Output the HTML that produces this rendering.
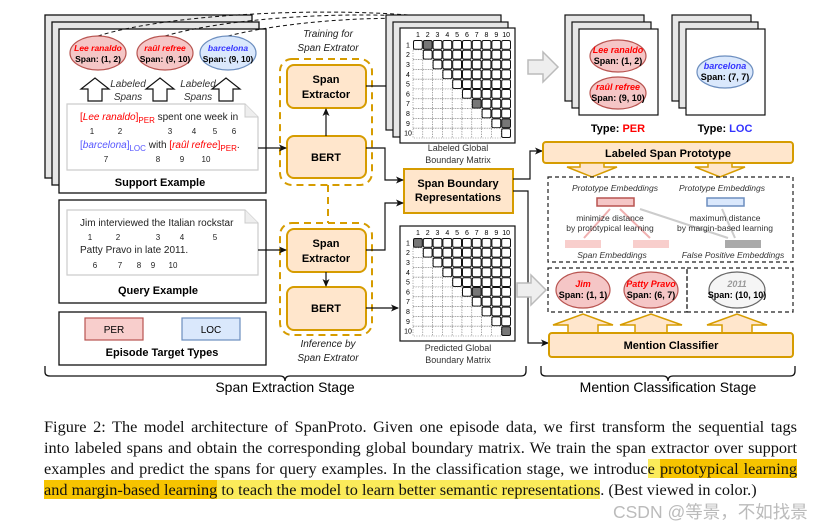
<!DOCTYPE html>
<html><head><meta charset="utf-8">
<style>
html,body{margin:0;padding:0;background:#fff;width:840px;height:530px;overflow:hidden;position:relative}
svg{position:absolute;left:0;top:0}
svg text{font-family:"Liberation Sans",sans-serif}
.cap{position:absolute;left:44px;width:753px;font-family:"Liberation Serif",serif;font-size:16.3px;line-height:21px;color:#111;white-space:nowrap;text-align:justify;text-align-last:justify}
.hl{background:#f7c400}
.hl2{background:#fbeb5a}
.wm{position:absolute;left:613px;top:499px;font-family:"Liberation Sans","Noto Sans CJK SC",sans-serif;font-size:17.5px;color:#bbb;white-space:nowrap}
</style></head><body>
<svg width="840" height="530" viewBox="0 0 840 530" xmlns="http://www.w3.org/2000/svg">
<defs>
<marker id="ar" markerWidth="8" markerHeight="8" refX="7" refY="4" orient="auto" markerUnits="userSpaceOnUse"><path d="M0,0.5 L8,4 L0,7.5 L2,4z" fill="#111"/></marker>
</defs>
<g stroke="#111" stroke-width="1.3" font-size="11">
<rect x="45" y="15" width="207" height="163" fill="#e6e6e6"/>
<rect x="52" y="22" width="207" height="163" fill="#e6e6e6"/>
<rect x="59" y="29" width="207" height="164" fill="#fff"/>
<rect x="59" y="200" width="207" height="103" fill="#fff"/>
<rect x="59" y="312" width="207" height="53" fill="#fff"/>
</g>
<g fill="none" stroke="#111" stroke-dasharray="4,3" stroke-width="1">
<path d="M98,36 C180,10 380,5 462,22" marker-end="url(#ar)"/>
<path d="M165,36 C240,14 400,8 480,24" marker-end="url(#ar)"/>
<path d="M228,36 C300,18 420,12 500,26" marker-end="url(#ar)"/>
</g>
<g stroke-width="1.2">
<ellipse cx="98" cy="53" rx="28" ry="17" fill="#f5c6c6" stroke="#b85450"/>
<ellipse cx="165" cy="53" rx="28" ry="17" fill="#f5c6c6" stroke="#b85450"/>
<ellipse cx="228" cy="53" rx="28" ry="17" fill="#dae8fc" stroke="#6c8ebf"/>
</g>
<g font-size="8.5" font-weight="bold" text-anchor="middle">
<text x="98" y="51" fill="#f00" font-style="italic">Lee ranaldo</text><text x="98" y="62">Span: (1, 2)</text>
<text x="165" y="51" fill="#f00" font-style="italic">raûl refree</text><text x="165" y="62">Span: (9, 10)</text>
<text x="228" y="51" fill="#33f" font-style="italic">barcelona</text><text x="228" y="62">Span: (9, 10)</text>
</g>
<g fill="#fff" stroke="#111" stroke-width="1.2">
<path d="M88,101 V89 H81 L95,78 L109,89 H102 V101z"/>
<path d="M153,101 V89 H146 L160,78 L174,89 H167 V101z"/>
<path d="M219,101 V89 H212 L226,78 L240,89 H233 V101z"/>
</g>
<g font-size="10" font-style="italic" fill="#333" text-anchor="middle">
<text x="128" y="87">Labeled</text><text x="128" y="100">Spans</text>
<text x="198" y="87">Labeled</text><text x="198" y="100">Spans</text>
</g>
<path d="M67,104 H245 L258,117 V170 H67z" fill="#fff" stroke="#ccc" stroke-width="1.2"/>
<path d="M245,104 V117 H258" fill="#eee" stroke="#ccc"/>
<g font-size="10" fill="#222">
<text x="80" y="120"><tspan fill="#f00">[</tspan><tspan fill="#f00" font-style="italic">Lee ranaldo</tspan><tspan fill="#f00">]</tspan><tspan fill="#f00" font-size="8" dy="3">PER</tspan><tspan dy="-3"> spent one week in</tspan></text>
<text x="80" y="148"><tspan fill="#55f">[</tspan><tspan fill="#55f" font-style="italic">barcelona</tspan><tspan fill="#55f">]</tspan><tspan fill="#55f" font-size="8" dy="3">LOC</tspan><tspan dy="-3"> with </tspan><tspan fill="#f00">[</tspan><tspan fill="#f00" font-style="italic">raûl refree</tspan><tspan fill="#f00">]</tspan><tspan fill="#f00" font-size="8" dy="3">PER</tspan><tspan dy="-3">.</tspan></text>
</g>
<g font-size="8" fill="#222" text-anchor="middle">
<text x="92" y="134">1</text><text x="120" y="134">2</text><text x="170" y="134">3</text><text x="194" y="134">4</text><text x="215" y="134">5</text><text x="234" y="134">6</text>
<text x="106" y="162">7</text><text x="158" y="162">8</text><text x="182" y="162">9</text><text x="206" y="162">10</text>
</g>
<text x="160" y="186" font-size="11" font-weight="bold" text-anchor="middle">Support Example</text>
<path d="M67,210 H245 L258,223 V275 H67z" fill="#fff" stroke="#ccc" stroke-width="1.2"/>
<path d="M245,210 V223 H258" fill="#eee" stroke="#ccc"/>
<g font-size="10" fill="#222"><text x="80" y="226">Jim interviewed the Italian rockstar</text><text x="80" y="253">Patty Pravo in late 2011.</text></g>
<g font-size="8" fill="#222" text-anchor="middle">
<text x="90" y="240">1</text><text x="118" y="240">2</text><text x="158" y="240">3</text><text x="182" y="240">4</text><text x="215" y="240">5</text>
<text x="95" y="268">6</text><text x="120" y="268">7</text><text x="139" y="268">8</text><text x="153" y="268">9</text><text x="173" y="268">10</text>
</g>
<text x="158" y="294" font-size="11" font-weight="bold" text-anchor="middle">Query Example</text>
<rect x="85" y="318" width="58" height="22" fill="#f8cecc" stroke="#b85450" stroke-width="1.2"/>
<rect x="182" y="318" width="58" height="22" fill="#dae8fc" stroke="#6c8ebf" stroke-width="1.2"/>
<g font-size="10" text-anchor="middle"><text x="114" y="333">PER</text><text x="211" y="333">LOC</text></g>
<text x="162" y="356" font-size="11" font-weight="bold" text-anchor="middle">Episode Target Types</text>
<path d="M45,366 V372 Q45,376 50,376 H280 Q285,376 285,381 Q285,376 290,376 H521 Q526,376 526,371 V366" fill="none" stroke="#111" stroke-width="1.3"/>
<text x="285" y="392" font-size="14" text-anchor="middle">Span Extraction Stage</text>
<path d="M541,366 V372 Q541,376 546,376 H663 Q668,376 668,381 Q668,376 673,376 H790 Q795,376 795,371 V366" fill="none" stroke="#111" stroke-width="1.3"/>
<text x="668" y="392" font-size="14" text-anchor="middle">Mention Classification Stage</text>
<g font-size="10" font-style="italic" fill="#222" text-anchor="middle">
<text x="328" y="37">Training for</text><text x="328" y="51">Span Extrator</text>
<text x="328" y="347">Inference by</text><text x="328" y="361">Span Extrator</text>
</g>
<g fill="none" stroke="#d69c00" stroke-width="2" stroke-dasharray="7,5">
<rect x="280" y="59" width="92" height="126" rx="12"/>
<rect x="280" y="223" width="92" height="112" rx="12"/>
<line x1="328" y1="185" x2="328" y2="223"/>
</g>
<g fill="#ffe6cc" stroke="#d69c00" stroke-width="2">
<rect x="287" y="65" width="79" height="43" rx="7"/>
<rect x="287" y="136" width="79" height="42" rx="7"/>
<rect x="287" y="229" width="79" height="43" rx="7"/>
<rect x="287" y="287" width="79" height="43" rx="7"/>
<rect x="404" y="169" width="109" height="44"/>
</g>
<g font-size="11" font-weight="bold" text-anchor="middle">
<text x="326" y="83">Span</text><text x="326" y="98">Extractor</text>
<text x="326" y="161">BERT</text>
<text x="326" y="247">Span</text><text x="326" y="262">Extractor</text>
<text x="326" y="312">BERT</text>
<text x="458" y="187">Span Boundary</text><text x="458" y="201">Representations</text>
</g>
<g fill="none" stroke="#111" stroke-width="1.2" marker-end="url(#ar)">
<path d="M258,148 H286"/>
<path d="M258,250 H286"/>
<path d="M326,136 V109"/>
<path d="M326,272 V286"/>
<path d="M366,86 H398"/>
<path d="M366,148 H385 V180 H403"/>
<path d="M366,250 H385 V203 H403"/>
<path d="M366,308 H398"/>
<path d="M513,179 H530 V151 H542"/>
<path d="M513,191 H528 V343 H548"/>
</g>
<g stroke="#111" stroke-width="1.2">
<rect x="386" y="15" width="115" height="115" fill="#e6e6e6"/>
<rect x="393" y="22" width="115" height="115" fill="#e6e6e6"/>
<rect x="400" y="28" width="115" height="115" fill="#fff"/>
<rect x="400" y="226" width="115" height="115" fill="#fff"/>
</g>
<g id="m1"></g><g id="m2"></g>
<g font-size="9" fill="#333" text-anchor="middle">
<text x="458" y="151">Labeled Global</text><text x="458" y="163">Boundary Matrix</text>
<text x="458" y="351">Predicted Global</text><text x="458" y="363">Boundary Matrix</text>
</g>
<path d="M528,60 H543 V52 L558,67 L543,82 V74 H528z" fill="#eee" stroke="#bbb" stroke-width="1.5"/>
<path d="M517,283 H531 V275 L546,290 L531,305 V297 H517z" fill="#eee" stroke="#bbb" stroke-width="1.5"/>
<g stroke="#111" stroke-width="1.2">
<rect x="565" y="15" width="79" height="86" fill="#e6e6e6"/><rect x="572" y="22" width="79" height="86" fill="#e6e6e6"/><rect x="579" y="29" width="79" height="86" fill="#fff"/>
<rect x="672" y="15" width="79" height="86" fill="#e6e6e6"/><rect x="679" y="22" width="79" height="86" fill="#e6e6e6"/><rect x="686" y="29" width="79" height="86" fill="#fff"/>
</g>
<g stroke-width="1.2">
<ellipse cx="618" cy="56" rx="28" ry="16" fill="#f5c6c6" stroke="#b85450"/>
<ellipse cx="618" cy="93" rx="28" ry="16" fill="#f5c6c6" stroke="#b85450"/>
<ellipse cx="725" cy="72" rx="28" ry="16" fill="#dae8fc" stroke="#6c8ebf"/>
</g>
<g font-size="9" font-weight="bold" text-anchor="middle">
<text x="618" y="53" fill="#f00" font-style="italic">Lee ranaldo</text><text x="618" y="64">Span: (1, 2)</text>
<text x="618" y="90" fill="#f00" font-style="italic">raûl refree</text><text x="618" y="101">Span: (9, 10)</text>
<text x="725" y="69" fill="#33f" font-style="italic">barcelona</text><text x="725" y="80">Span: (7, 7)</text>
</g>
<g font-size="11" font-weight="bold" text-anchor="middle">
<text x="618" y="132">Type: <tspan fill="#f00">PER</tspan></text>
<text x="725" y="132">Type: <tspan fill="#33f">LOC</tspan></text>
</g>
<rect x="543" y="142" width="250" height="21" rx="3" fill="#ffe6cc" stroke="#d69c00" stroke-width="2"/>
<text x="668" y="157" font-size="11" font-weight="bold" text-anchor="middle">Labeled Span Prototype</text>
<g fill="#ffe6cc" stroke="#d69c00" stroke-width="1.5">
<path d="M580,163 V167 H567 L592,177 L617,167 H604 V163z"/>
<path d="M708,163 V167 H695 L720,177 L745,167 H732 V163z"/>
</g>
<g fill="none" stroke="#222" stroke-width="1.2" stroke-dasharray="4,3">
<rect x="548" y="177" width="245" height="85"/>
<rect x="548" y="268" width="139" height="44"/>
<rect x="687" y="268" width="106" height="44"/>
</g>
<g font-size="8.5" font-style="italic" fill="#333" text-anchor="middle">
<text x="615" y="191">Prototype Embeddings</text><text x="722" y="191">Prototype Embeddings</text>
<text x="612" y="258">Span Embeddings</text><text x="733" y="258">False Positive Embeddings</text>
</g>
<rect x="597" y="198" width="37" height="8" fill="#f5c6c6" stroke="#b85450" stroke-width="1.5"/>
<rect x="707" y="198" width="37" height="8" fill="#dae8fc" stroke="#6c8ebf" stroke-width="1.5"/>
<rect x="565" y="240" width="36" height="8" fill="#f8cecc"/>
<rect x="633" y="240" width="36" height="8" fill="#f8cecc"/>
<rect x="725" y="240" width="36" height="8" fill="#aaa"/>
<g stroke="#f0b0b0" stroke-width="2" fill="none">
<line x1="584" y1="238" x2="610" y2="209"/><line x1="650" y1="238" x2="620" y2="209"/>
<line x1="640" y1="209" x2="728" y2="238" stroke="#ccc"/>
<line x1="735" y1="238" x2="722" y2="209" stroke="#ccc"/>
</g>
<g font-size="8.5" fill="#333" text-anchor="middle">
<text x="610" y="221">minimize distance</text><text x="610" y="231">by prototypical learning</text>
<text x="725" y="221">maximum distance</text><text x="725" y="231">by margin-based learning</text>
</g>
<g stroke-width="1.2">
<ellipse cx="583" cy="290" rx="27" ry="18" fill="#f5c6c6" stroke="#b85450"/>
<ellipse cx="651" cy="290" rx="27" ry="18" fill="#f5c6c6" stroke="#b85450"/>
<ellipse cx="737" cy="290" rx="28" ry="18" fill="#f5f5f5" stroke="#666"/>
</g>
<g font-size="9" font-weight="bold" text-anchor="middle">
<text x="583" y="287" fill="#f00" font-style="italic">Jim</text><text x="583" y="298">Span: (1, 1)</text>
<text x="651" y="287" fill="#f00" font-style="italic">Patty Pravo</text><text x="651" y="298">Span: (6, 7)</text>
<text x="737" y="287" fill="#999" font-style="italic">2011</text><text x="737" y="298">Span: (10, 10)</text>
</g>
<g fill="#ffe6cc" stroke="#d69c00" stroke-width="1.5">
<path d="M568,333 V325 H553 L583,314 L613,325 H598 V333z"/>
<path d="M635,333 V325 H620 L651,314 L682,325 H667 V333z"/>
<path d="M722,333 V325 H707 L737,314 L767,325 H752 V333z"/>
</g>
<rect x="549" y="333" width="244" height="24" rx="3" fill="#ffe6cc" stroke="#d69c00" stroke-width="2"/>
<text x="671" y="349" font-size="11" font-weight="bold" text-anchor="middle">Mention Classifier</text>
</svg>
<div class="cap" style="top:416px">Figure 2: The model architecture of SpanProto. Given one episode data, we first transform the sequential tags</div>
<div class="cap" style="top:437px">into labeled spans and obtain the corresponding global boundary matrix. We train the span extractor over support</div>
<div class="cap" style="top:458px">examples and predict the spans for query examples. In the classification stage, we introduc<span class="hl2">e </span><span class="hl">prototypical learning</span></div>
<div class="cap" style="top:479px;text-align-last:left;text-align:left"><span class="hl">and margin-based learning</span><span class="hl2"> to teach the model to learn better semantic representations</span>. (Best viewed in color.)</div>
<div class="wm">CSDN @等景，不如找景</div>
<script>
function grid(id,x0,y0,shade){
 var g=document.getElementById(id),s=9.8,h='';
 for(var k=1;k<=10;k++){
  h+='<text x="'+(x0+(k-0.5)*s)+'" y="'+(y0-3)+'" font-size="7" text-anchor="middle">'+k+'</text>';
  h+='<text x="'+(x0-5)+'" y="'+(y0+(k-0.5)*s+2.5)+'" font-size="7" text-anchor="middle">'+k+'</text>';
 }
 for(var i=0;i<10;i++)for(var j=0;j<10;j++){
  var x=x0+j*s,y=y0+i*s;
  if(j>=i){var f=shade.indexOf(i+','+j)>=0?'#777':'#fff';
   h+='<rect x="'+(x+0.5)+'" y="'+(y+0.5)+'" width="'+(s-1)+'" height="'+(s-1)+'" rx="1.5" fill="'+f+'" stroke="#111" stroke-width="1"/>';}
  else h+='<rect x="'+x+'" y="'+y+'" width="'+s+'" height="'+s+'" fill="#fff" stroke="#666" stroke-width="0.6" stroke-dasharray="1,1.5"/>';
 }
 g.innerHTML=h;
}
grid('m1',413,40,['0,1','6,6','8,9']);
grid('m2',413,238,['0,0','5,6','9,9']);
</script>
</body></html>
